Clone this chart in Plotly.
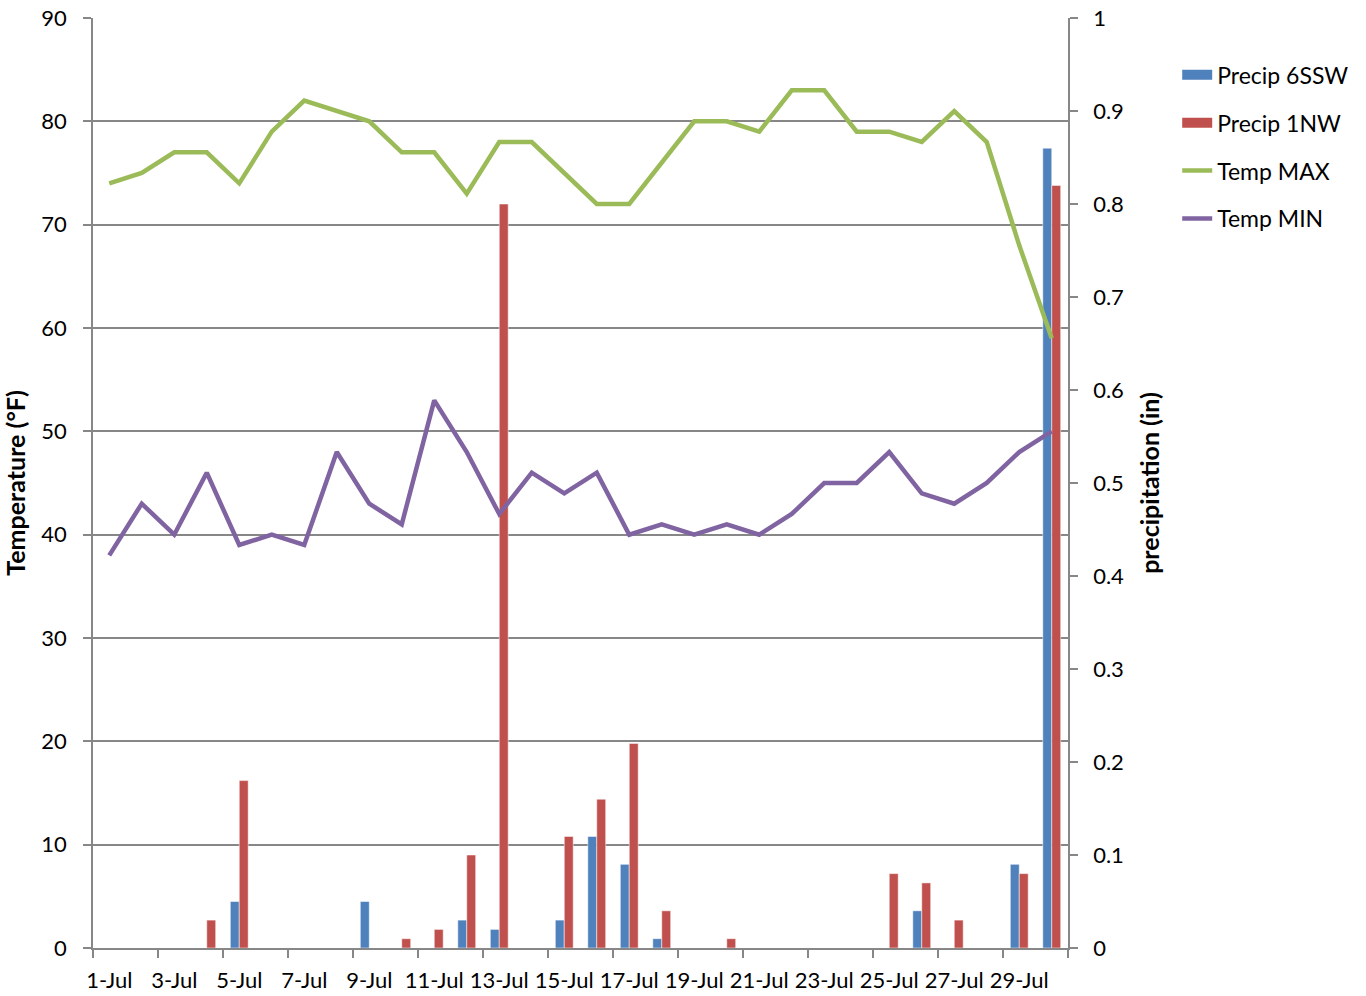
import plotly.graph_objects as go

day_num = list(range(1, 31))
day_labels = ["1-Jul", "2-Jul", "3-Jul", "4-Jul", "5-Jul", "6-Jul", "7-Jul", "8-Jul", "9-Jul", "10-Jul",
              "11-Jul", "12-Jul", "13-Jul", "14-Jul", "15-Jul", "16-Jul", "17-Jul", "18-Jul", "19-Jul", "20-Jul",
              "21-Jul", "22-Jul", "23-Jul", "24-Jul", "25-Jul", "26-Jul", "27-Jul", "28-Jul", "29-Jul", "30-Jul"]

temp_max = [74, 75, 77, 77, 74, 79, 82, 81, 80, 77, 77, 73, 78, 78, 75, 72, 72, 76, 80, 80,
            79, 83, 83, 79, 79, 78, 81, 78, 68, 59]
temp_min = [38, 43, 40, 46, 39, 40, 39, 48, 43, 41, 53, 48, 42, 46, 44, 46, 40, 41, 40, 41,
            40, 42, 45, 45, 48, 44, 43, 45, 48, 50]
precip_6ssw = [0, 0, 0, 0, 0.05, 0, 0, 0, 0.05, 0, 0, 0.03, 0.02, 0, 0.03, 0.12, 0.09, 0.01, 0, 0,
               0, 0, 0, 0, 0, 0.04, 0, 0, 0.09, 0.86]
precip_1nw = [0, 0, 0, 0.03, 0.18, 0, 0, 0, 0, 0.01, 0.02, 0.10, 0.80, 0, 0.12, 0.16, 0.22, 0.04, 0, 0.01,
              0, 0, 0, 0, 0.08, 0.07, 0.03, 0, 0.08, 0.82]

FONT = "Lato"
GRID = "#878787"
BLUE, RED, GREEN, PURPLE = "#4F81BD", "#C0504D", "#9BBB59", "#8064A2"

fig = go.Figure()
fig.add_trace(go.Bar(x=day_num, y=precip_6ssw, name="Precip 6SSW", yaxis="y", showlegend=False,
                     marker=dict(color=BLUE, line=dict(color="rgba(255,255,255,0.5)", width=1))))
fig.add_trace(go.Bar(x=day_num, y=precip_1nw, name="Precip 1NW", yaxis="y", showlegend=False,
                     marker=dict(color=RED, line=dict(color="rgba(255,255,255,0.5)", width=1))))
fig.add_trace(go.Scatter(x=day_num, y=temp_max, name="Temp MAX", yaxis="y2", mode="lines",
                         line=dict(color=GREEN, width=4.5), showlegend=False))
fig.add_trace(go.Scatter(x=day_num, y=temp_min, name="Temp MIN", yaxis="y2", mode="lines",
                         line=dict(color=PURPLE, width=4.5), showlegend=False))

# legend proxies (no data drawn)
legend_items = [("Precip 6SSW", BLUE, 14), ("Precip 1NW", RED, 14),
                ("Temp MAX", GREEN, 4.5), ("Temp MIN", PURPLE, 4.5)]
for i, (nm, col, w) in enumerate(legend_items):
    fig.add_trace(go.Scatter(x=[None], y=[None], name=nm, mode="lines", yaxis="y2",
                             line=dict(color=col, width=w), legendgroup=f"g{i}",
                             showlegend=True, hoverinfo="skip"))

fig.update_layout(
    width=1366, height=996,
    margin=dict(l=93, r=298, t=18, b=48, autoexpand=False),
    paper_bgcolor="white", plot_bgcolor="white",
    font=dict(family=FONT, size=22, color="black"),
    barmode="group", bargap=0.45, bargroupgap=0,
    showlegend=True,
    legend=dict(x=1.112, y=0.962, xanchor="left", yanchor="top",
                font=dict(family=FONT, size=23), tracegroupgap=15,
                bgcolor="rgba(0,0,0,0)"),
    xaxis=dict(
        range=[0.5, 30.5], tickmode="array", automargin=False,
        tickvals=day_num[::2], ticktext=day_labels[::2],
        ticks="", showgrid=False, showline=True, linecolor=GRID, linewidth=1.5,
        tickfont=dict(family=FONT, size=22), ticklabelstandoff=12,
        minor=dict(tickmode="linear", tick0=0.5, dtick=2, ticks="outside",
                   ticklen=8, tickwidth=1.5, tickcolor=GRID, showgrid=False),
        zeroline=False,
    ),
    yaxis=dict(
        side="right", range=[0, 1], dtick=0.1, tick0=0, automargin=False,
        showgrid=False, showline=True, linecolor=GRID, linewidth=1.5,
        ticks="outside", ticklen=8, tickwidth=1.5, tickcolor=GRID,
        ticklabelstandoff=11, zeroline=False,
        title=dict(text="<b>precipitation (in)</b>", font=dict(family=FONT, size=25), standoff=18),
    ),
    yaxis2=dict(
        overlaying="y", side="left", range=[0, 90], dtick=10, tick0=0, automargin=False,
        showgrid=True, gridcolor=GRID, gridwidth=1.5,
        showline=True, linecolor=GRID, linewidth=1.5,
        ticks="outside", ticklen=8, tickwidth=1.5, tickcolor=GRID,
        ticklabelstandoff=12, zeroline=False,
        title=dict(text="<b>Temperature (°F)</b>", font=dict(family=FONT, size=25), standoff=12),
    ),
)

fig.write_html("out.html", config={"displayModeBar": False},
               post_script="document.body.style.margin='0';")
